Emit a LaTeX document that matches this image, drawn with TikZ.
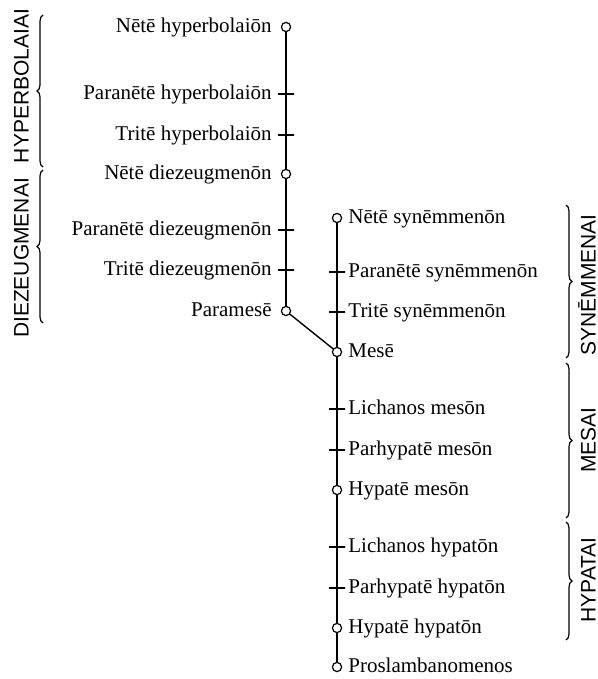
\documentclass[tikz,border=0pt]{standalone}
\usepackage{fontspec}
\setmainfont{Liberation Serif}
\setsansfont{Liberation Sans}
\usetikzlibrary{positioning,decorations.pathreplacing}

\begin{document}
\begin{tikzpicture}[x=0.5pt,y=-0.5pt,font=\fontsize{10.5}{12}\selectfont,
    open/.style={circle,draw,fill=white,line width=0.6pt,inner sep=0pt,minimum size=4.6pt},
    tick/.style={draw,line width=0.6pt,inner sep=0pt,minimum width=8pt,minimum height=0pt},
    lbl/.style={inner sep=0pt,text height=1.6ex,text depth=.3ex},
    grp/.style={font=\sffamily\fontsize{10.5}{12}\selectfont,rotate=90,inner sep=0pt,
      text height=7.5pt,text depth=0pt},
    brc/.style={decorate,decoration={brace,amplitude=3pt},line width=0.6pt}]
    \useasboundingbox (0,0) rectangle (598,679);
    % upper column (disjunct tetrachords)
    \node[open] (nh) at (286,27) {};
    \node[tick] (pnh) at (286,94) {};
    \node[tick] (th) at (286,135) {};
    \node[open] (nd) at (286,174) {};
    \node[tick] (pnd) at (286,230) {};
    \node[tick] (td) at (286,270) {};
    \node[open] (pm) at (286,311) {};
    \node[lbl,left=7pt of nh.center] {Nētē hyperbolaiōn};
    \node[lbl,left=7pt of pnh.center] {Paranētē hyperbolaiōn};
    \node[lbl,left=7pt of th.center] {Tritē hyperbolaiōn};
    \node[lbl,left=7pt of nd.center] {Nētē diezeugmenōn};
    \node[lbl,left=7pt of pnd.center] {Paranētē diezeugmenōn};
    \node[lbl,left=7pt of td.center] {Tritē diezeugmenōn};
    \node[lbl,left=7pt of pm.center] {Paramesē};
    % lower column
    \node[open] (ns) at (337,218) {};
    \node[tick] (pns) at (337,272) {};
    \node[tick] (ts) at (337,312) {};
    \node[open] (me) at (337,352) {};
    \node[tick] (lm) at (337,409) {};
    \node[tick] (phm) at (337,450) {};
    \node[open] (hm) at (337,490) {};
    \node[tick] (lh) at (337,547) {};
    \node[tick] (phh) at (337,588) {};
    \node[open] (hh) at (337,628) {};
    \node[open] (pr) at (337,667) {};
    \node[lbl,right=5.5pt of ns.center] {Nētē synēmmenōn};
    \node[lbl,right=5.5pt of pns.center] {Paranētē synēmmenōn};
    \node[lbl,right=5.5pt of ts.center] {Tritē synēmmenōn};
    \node[lbl,right=5.5pt of me.center] {Mesē};
    \node[lbl,right=5.5pt of lm.center] {Lichanos mesōn};
    \node[lbl,right=5.5pt of phm.center] {Parhypatē mesōn};
    \node[lbl,right=5.5pt of hm.center] {Hypatē mesōn};
    \node[lbl,right=5.5pt of lh.center] {Lichanos hypatōn};
    \node[lbl,right=5.5pt of phh.center] {Parhypatē hypatōn};
    \node[lbl,right=5.5pt of hh.center] {Hypatē hypatōn};
    \node[lbl,right=5.5pt of pr.center] {Proslambanomenos};
    % strings
    \draw[line width=0.7pt] (nh)--(pnh)--(th)--(nd);
    \draw[line width=0.7pt] (nd)--(pnd)--(td)--(pm);
    \draw[line width=0.7pt] (pm)--(me);
    \draw[line width=0.7pt] (ns)--(pns)--(ts)--(me);
    \draw[line width=0.7pt] (me)--(lm)--(phm)--(hm);
    \draw[line width=0.7pt] (hm)--(lh)--(phh)--(hh)--(pr);
    % tetrachord braces
    \coordinate (hyb) at (43,167); \coordinate (hyt) at (43,15);
    \coordinate (dib) at (43,323); \coordinate (dit) at (43,170);
    \coordinate (syt) at (566,205); \coordinate (syb) at (566,358);
    \coordinate (mst) at (566,363); \coordinate (msb) at (566,518);
    \coordinate (hpt) at (566,522); \coordinate (hpb) at (566,640);
    \draw[brc] (hyb)--(hyt);
    \draw[brc] (dib)--(dit);
    \draw[brc] (syt)--(syb);
    \draw[brc] (mst)--(msb);
    \draw[brc] (hpt)--(hpb);
    \node[grp] (hyp) at (21,86) {HYPERBOLAIAI};
    \node[grp] (die) at (21,258) {DIEZEUGMENAI};
    \node[grp] (syn) at (588,285) {SYNĒMMENAI};
    \node[grp] (mes) at (588,440) {MESAI};
    \node[grp] (hyt2) at (588,580) {HYPATAI};
  \end{tikzpicture}
\end{document}
